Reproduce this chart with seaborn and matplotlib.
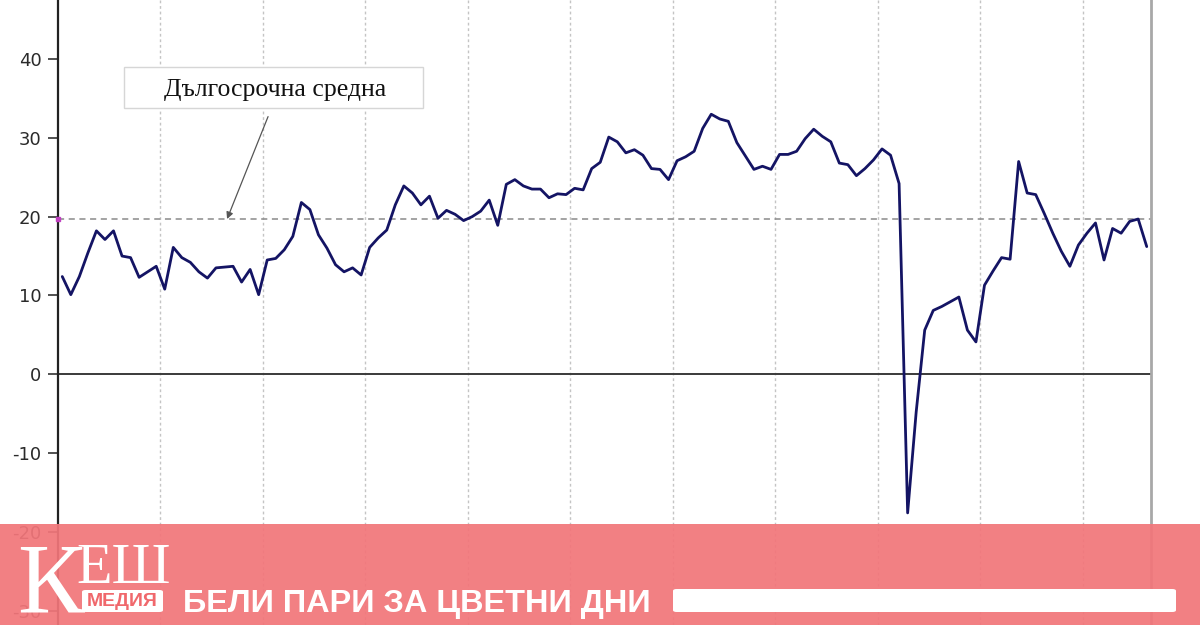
import numpy as np
import pandas as pd
import matplotlib
matplotlib.use("Agg")
import matplotlib.pyplot as plt
import seaborn as sns
from matplotlib.patches import Rectangle, FancyBboxPatch

# ---------------- data ----------------
months = pd.date_range("2012-01-01", periods=128, freq="MS")
values = [
    12.4, 10.1, 12.4, 15.4, 18.2, 17.1, 18.2, 15.0, 14.8, 12.3, 13.0, 13.7,
    10.8, 16.1, 14.8, 14.2, 13.0, 12.2, 13.5, 13.6, 13.7, 11.7, 13.3, 10.1,
    14.5, 14.7, 15.8, 17.5, 21.8, 20.9, 17.7, 16.0, 13.9, 13.0, 13.5, 12.6,
    16.1, 17.3, 18.3, 21.5, 23.9, 23.0, 21.5, 22.6, 19.8, 20.8, 20.3, 19.5,
    20.0, 20.7, 22.1, 18.9, 24.1, 24.7, 23.9, 23.5, 23.5, 22.4, 22.9, 22.8,
    23.6, 23.4, 26.1, 26.9, 30.1, 29.5, 28.1, 28.5, 27.8, 26.1, 26.0, 24.7,
    27.1, 27.6, 28.3, 31.2, 33.0, 32.4, 32.1, 29.4, 27.7, 26.0, 26.4, 26.0,
    27.9, 27.9, 28.3, 29.9, 31.1, 30.2, 29.5, 26.8, 26.6, 25.2, 26.1, 27.2,
    28.6, 27.8, 24.2, -17.6, -4.8, 5.6, 8.1, 8.6, 9.2, 9.8, 5.6, 4.1,
    11.3, 13.1, 14.8, 14.6, 27.0, 23.0, 22.8, 20.4, 17.9, 15.6, 13.7, 16.4,
    17.9, 19.2, 14.5, 18.5, 17.9, 19.4, 19.7, 16.2,
]
long_term_avg = 19.7
y_ticks = [-30, -20, -10, 0, 10, 20, 30, 40]
annotation_label = "Дългосрочна средна"
logo_big = "К"
logo_rest = "ЕШ"
logo_sub = "МЕДИЯ"
slogan = "БЕЛИ ПАРИ ЗА ЦВЕТНИ ДНИ"

df = pd.DataFrame({"pos": np.arange(len(values)), "month": months, "value": values})

# ---------------- figure ----------------
W, H = 1200, 625
sns.set_style("white")
plt.rcParams["font.family"] = ["DejaVu Sans"]
fig = plt.figure(figsize=(W / 100, H / 100), dpi=100)

def fx(px):
    return px / W

def fy(py):
    return 1 - py / H

ax = fig.add_axes([fx(58), 0, fx(1151) - fx(58), 1])
ax.set_xlim(-0.5, len(values) - 0.5)
ax.set_ylim(-31.83, 47.5)

# year gridlines (between December and January)
year_starts = df.index[(df["month"].dt.month == 1) & (df.index > 0)]
for p in year_starts:
    ax.axvline(p - 0.5, color="#c4c4c4", lw=1.0, ls=(0, (2, 2)), zorder=0)

# zero line and long-term average
ax.axhline(0, color="#3a3a3a", lw=1.4, zorder=1)
ax.axhline(long_term_avg, color="#8a8a8a", lw=1.1, ls=(0, (4, 3)), zorder=1)
ax.plot([-0.5], [long_term_avg], marker="s", ms=3.5, color="#c040c0",
        clip_on=False, zorder=5)

sns.lineplot(data=df, x="pos", y="value", ax=ax, color="#141464",
             linewidth=2.0, zorder=3)

# axes styling
for s in ["top", "bottom"]:
    ax.spines[s].set_visible(False)
ax.spines["left"].set_color("#222222")
ax.spines["left"].set_linewidth(1.6)
ax.spines["right"].set_color("#a8a8a8")
ax.spines["right"].set_linewidth(2.0)
ax.set_xticks([])
ax.set_yticks(y_ticks)
ax.set_yticklabels([str(t) for t in y_ticks])
ax.tick_params(axis="y", direction="out", length=7, width=1.2, color="#333333",
               labelsize=13, labelcolor="#2a2a2a", pad=5, left=True)
ax.set_xlabel("")
ax.set_ylabel("")

# annotation box with arrow
fig.add_artist(Rectangle((fx(124), fy(108)), fx(423) - fx(124), fy(67) - fy(108),
                         transform=fig.transFigure, facecolor="white",
                         edgecolor="#d6d6d6", lw=1.0, zorder=6))
fig.text(fx(275), fy(90), annotation_label, ha="center", va="center",
         family=["Liberation Serif", "DejaVu Serif"], fontsize=18.5,
         color="#111111", zorder=7)
ax.annotate("", xy=(19.3, long_term_avg), xytext=(24.1, 32.7),
            arrowprops=dict(arrowstyle="-|>", color="#555555", lw=0.9,
                            mutation_scale=10, shrinkA=0, shrinkB=0),
            zorder=7)

# ---------------- banner ----------------
fig.add_artist(Rectangle((0, 0), 1, fy(524), transform=fig.transFigure,
                         facecolor="#f2767a", edgecolor="none", alpha=0.93,
                         zorder=10))
fig.text(fx(17), fy(611), logo_big, ha="left", va="baseline",
         family=["Liberation Serif", "DejaVu Serif"], fontsize=72,
         color="white", zorder=12)
fig.text(fx(76), fy(583), logo_rest, ha="left", va="baseline",
         family=["Liberation Serif", "DejaVu Serif"], fontsize=42,
         color="white", zorder=12)
fig.add_artist(FancyBboxPatch((fx(82), fy(612)), fx(163) - fx(82), fy(590) - fy(612),
                              boxstyle="round,pad=0,rounding_size=0.003",
                              transform=fig.transFigure, facecolor="white",
                              edgecolor="none", zorder=11))
fig.text(fx(122.5), fy(601), logo_sub, ha="center", va="center",
         family=["Liberation Sans", "DejaVu Sans"], fontweight="bold",
         fontsize=14, color="#f0686c", zorder=12)
fig.text(fx(183), fy(612), slogan, ha="left", va="baseline",
         family=["Liberation Sans", "DejaVu Sans"], fontweight="bold",
         fontsize=23.4, color="white", zorder=12)
fig.add_artist(FancyBboxPatch((fx(673), fy(612)), fx(1176) - fx(673), fy(589) - fy(612),
                              boxstyle="round,pad=0,rounding_size=0.003",
                              transform=fig.transFigure, facecolor="white",
                              edgecolor="none", zorder=11))

fig.savefig("out.png", dpi=100)
